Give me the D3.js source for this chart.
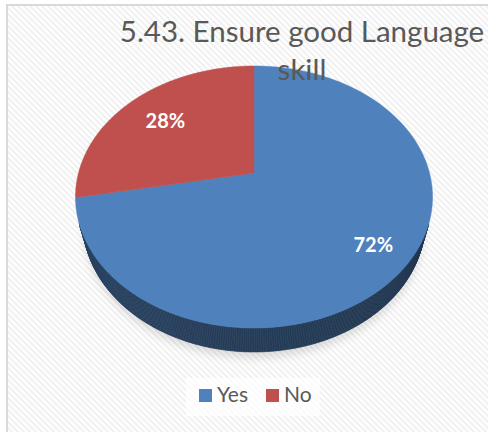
<!DOCTYPE html>
<html>
<head>
<meta charset="utf-8">
<script src="https://cdn.jsdelivr.net/npm/d3@7"></script>
<style>
  html, body { margin: 0; padding: 0; background: #ffffff; }
  svg { display: block; }
</style>
</head>
<body>
<svg id="chart" width="488" height="432"></svg>
<script>
// Survey answers
const categories = ["Yes", "No"];
const values = [72, 28];
const titleLines = ["5.43. Ensure good Language", "skill"];

const sliceColors = ["#4f81bd", "#c0504d"];

const W = 488, H = 432;
const svg = d3.select("#chart");
const defs = svg.append("defs");

// faint diagonal hatch used as the chart-area fill
const pat = defs.append("pattern")
  .attr("id", "hatch").attr("patternUnits", "userSpaceOnUse")
  .attr("width", 6).attr("height", 6);
pat.append("rect").attr("width", 6).attr("height", 6).attr("fill", "#ffffff");
pat.append("path").attr("d", "M-1,-1 L7,7 M-1,5 L1,7 M5,-1 L7,1")
  .attr("stroke", "#efefef").attr("stroke-width", 1.6);

defs.append("filter").attr("id", "soft").attr("x", "-20%").attr("y", "-50%")
  .attr("width", "140%").attr("height", "200%")
  .append("feGaussianBlur").attr("stdDeviation", 4);

// chart frame
svg.append("rect").attr("x", 7).attr("y", 5).attr("width", W + 20).attr("height", H + 20)
  .attr("fill", "url(#hatch)").attr("stroke", "#d9d9d9").attr("stroke-width", 2);

// ---- tilted pie with perspective ----
const cx = 254, cy = 173;           // projected pie centre
const F = 663.2, D = 3.779;         // focal length, camera distance (radius = 1)
const tilt = Math.asin(0.7215);
const s = Math.sin(tilt), c = Math.cos(tilt);
const depth = 0.224;                // thickness of the pie

function proj(r, a, down) {
  const u = r * Math.sin(a), v = -r * Math.cos(a);
  const X = u, Y = v * s + down * c, Z = D - v * c + down * s;
  return [cx + F * X / Z, cy + F * Y / Z];
}

const pie = d3.pie().sort(null).value(d => d.value).startAngle(0).endAngle(2 * Math.PI);
const data = categories.map((k, i) => ({ key: k, value: values[i], color: sliceColors[i] }));
const arcs = pie(data);

function arcSamples(a0, a1) {
  const n = Math.max(2, Math.ceil((a1 - a0) / (Math.PI / 360)));
  return d3.range(n + 1).map(i => a0 + (a1 - a0) * i / n);
}

// soft shadow below the pie
const shadowPts = arcSamples(0, 2 * Math.PI).map(a => proj(1, a, depth + 0.02));
svg.append("path")
  .attr("d", d3.line()(shadowPts) + "Z")
  .attr("fill", "#000").attr("opacity", 0.12)
  .attr("transform", "translate(0,4)")
  .attr("filter", "url(#soft)");

// outer walls (only the parts facing the camera)
const camV = D * c;
const walls = svg.append("g");
arcs.forEach(d => {
  const pts = arcSamples(d.startAngle, d.endAngle);
  for (let i = 0; i < pts.length - 1; i++) {
    const a = pts[i], b = pts[i + 1], m = (a + b) / 2;
    const facing = -Math.cos(m) * camV - 1 > -0.02;
    if (!facing) continue;
    const shade = d3.color(d.data.color).darker(2.15 + 0.3 * Math.sin(m));
    const poly = [proj(1, a, 0), proj(1, b, 0), proj(1, b, depth), proj(1, a, depth)];
    walls.append("path").attr("d", d3.line()(poly) + "Z")
      .attr("fill", shade).attr("stroke", shade).attr("stroke-width", 0.6);
  }
});

// top faces
const tops = svg.append("g");
arcs.forEach(d => {
  const pts = [[cx, cy]].concat(arcSamples(d.startAngle, d.endAngle).map(a => proj(1, a, 0)));
  tops.append("path").attr("d", d3.line()(pts) + "Z")
    .attr("fill", d.data.color).attr("stroke", d.data.color).attr("stroke-width", 0.5);
});

// percentage labels
const labelR = [0.8, 0.71];
const total = d3.sum(values);
arcs.forEach((d, i) => {
  const mid = (d.startAngle + d.endAngle) / 2;
  const p = proj(labelR[i], mid, 0);
  svg.append("text")
    .attr("x", p[0]).attr("y", p[1])
    .attr("text-anchor", "middle").attr("dominant-baseline", "central")
    .attr("font-family", "Lato, 'Open Sans', sans-serif")
    .attr("font-weight", "bold").attr("font-size", 20).attr("fill", "#ffffff")
    .text(Math.round(d.value / total * 100) + "%");
});

// title, drawn over the pie
const title = svg.append("text")
  .attr("text-anchor", "middle")
  .attr("font-family", "Lato, 'Open Sans', sans-serif")
  .attr("font-size", 29.5).attr("fill", "#595959");
titleLines.forEach((t, i) => {
  title.append("tspan").attr("x", 302).attr("y", 42 + i * 38).text(t);
});

// legend
svg.append("rect").attr("x", 186).attr("y", 378).attr("width", 134).attr("height", 38)
  .attr("fill", "#ffffff").attr("opacity", 0.75);
const legend = svg.append("g").attr("font-family", "Lato, 'Open Sans', sans-serif")
  .attr("font-size", 21).attr("fill", "#595959");
const legX = [199, 266];
categories.forEach((k, i) => {
  legend.append("rect").attr("x", legX[i]).attr("y", 389).attr("width", 13).attr("height", 13)
    .attr("fill", sliceColors[i]);
  legend.append("text").attr("x", legX[i] + 18).attr("y", 402).text(k);
});
</script>
</body>
</html>
